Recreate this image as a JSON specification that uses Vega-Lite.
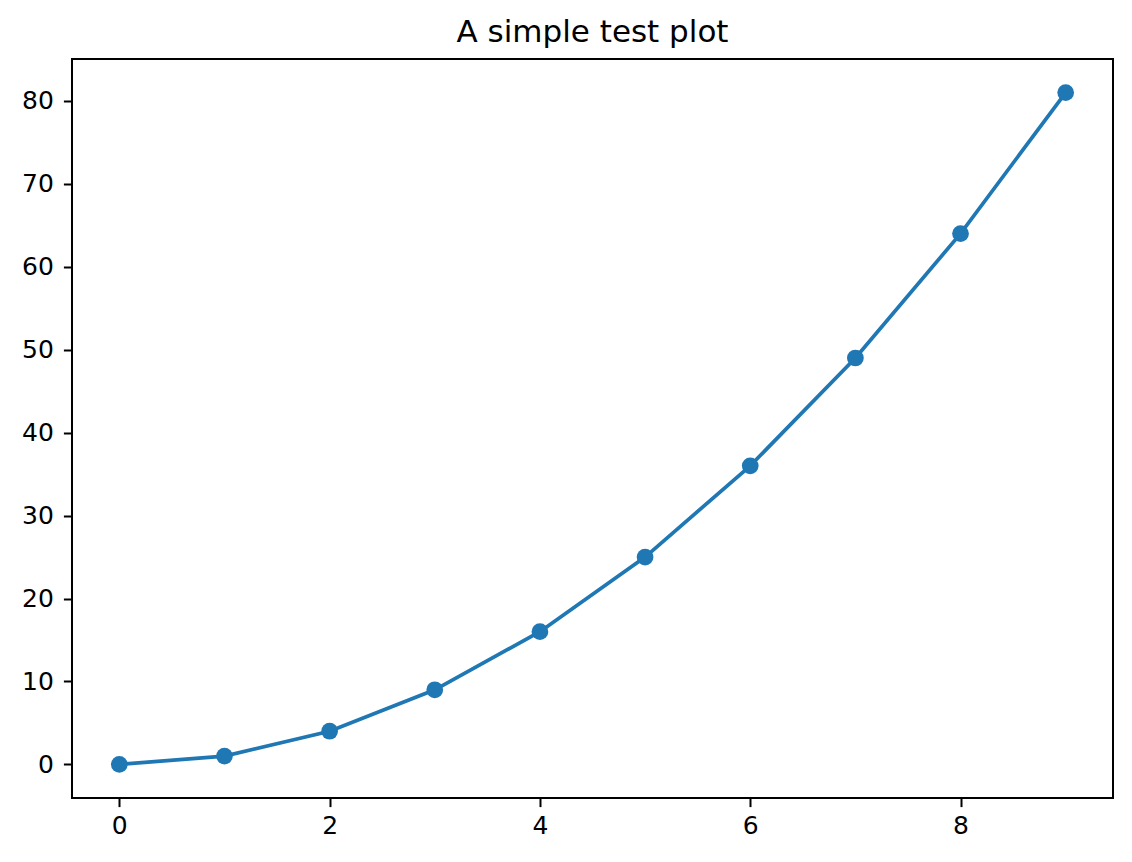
{
  "$schema": "https://vega.github.io/schema/vega-lite/v6.json",
  "width": 1041,
  "height": 739,
  "autosize": {"type": "none"},
  "padding": {"left": 72, "top": 59, "right": 19, "bottom": 64},
  "background": "white",
  "title": {
    "text": "A simple test plot",
    "font": "DejaVu Sans",
    "fontSize": 31,
    "fontWeight": "normal",
    "color": "black",
    "offset": 10
  },
  "data": {
    "values": [
      {"x": 0, "y": 0},
      {"x": 1, "y": 1},
      {"x": 2, "y": 4},
      {"x": 3, "y": 9},
      {"x": 4, "y": 16},
      {"x": 5, "y": 25},
      {"x": 6, "y": 36},
      {"x": 7, "y": 49},
      {"x": 8, "y": 64},
      {"x": 9, "y": 81}
    ]
  },
  "encoding": {
    "x": {
      "field": "x",
      "type": "quantitative",
      "scale": {"domain": [-0.45, 9.45], "nice": false, "zero": false},
      "axis": {"values": [0, 2, 4, 6, 8], "title": null, "labelPadding": 7}
    },
    "y": {
      "field": "y",
      "type": "quantitative",
      "scale": {"domain": [-4.05, 85.05], "nice": false, "zero": false},
      "axis": {"values": [0, 10, 20, 30, 40, 50, 60, 70, 80], "title": null, "labelPadding": 10}
    }
  },
  "layer": [
    {"mark": {"type": "line", "color": "#1f77b4", "strokeWidth": 3.7}},
    {"mark": {"type": "circle", "color": "#1f77b4", "size": 280, "opacity": 1}}
  ],
  "config": {
    "view": {"stroke": "black", "strokeWidth": 2},
    "axis": {
      "grid": false,
      "domain": false,
      "tickColor": "black",
      "tickSize": 8.6,
      "tickWidth": 2,
      "labelFont": "DejaVu Sans",
      "labelFontSize": 25,
      "labelColor": "black"
    }
  }
}
